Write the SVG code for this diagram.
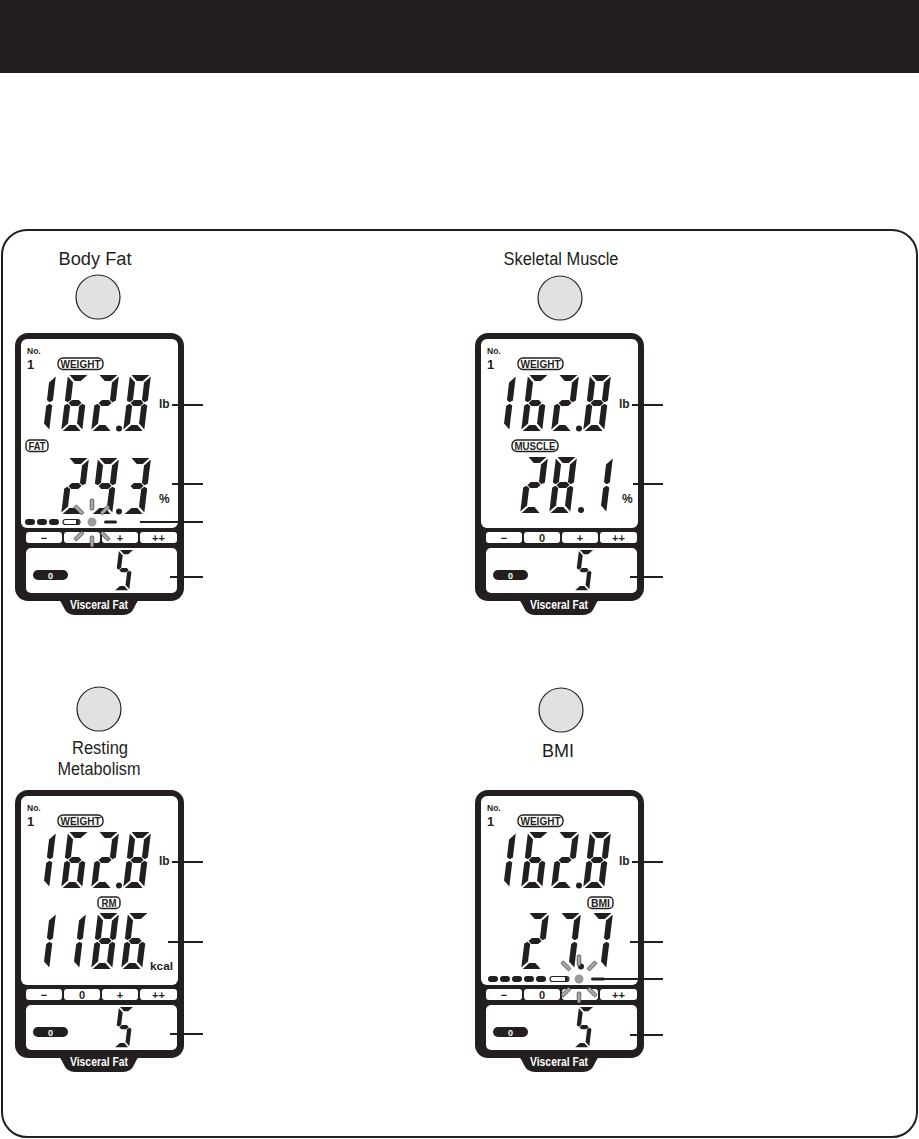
<svg xmlns="http://www.w3.org/2000/svg" width="919" height="1139" viewBox="0 0 919 1139">
<style>
.dk{fill:#231f20}
.wh{fill:#fff}
.lbl{font-family:"Liberation Sans",Arial,sans-serif;font-size:18px;fill:#231f20;text-anchor:middle}
.b{font-family:"Liberation Sans",Arial,sans-serif;font-weight:bold;fill:#231f20}
.bw{font-family:"Liberation Sans",Arial,sans-serif;font-weight:bold;fill:#fff;text-anchor:middle}
.badge{fill:#fff;stroke:#231f20;stroke-width:1.4}
.bt{font-family:"Liberation Sans",Arial,sans-serif;font-weight:bold;font-size:10px;fill:#231f20;text-anchor:middle}
.kt{font-family:"Liberation Sans",Arial,sans-serif;font-weight:bold;font-size:11px;fill:#231f20;text-anchor:middle}
.lead{stroke:#231f20;stroke-width:2;fill:none}
.ray{fill:#a6a6a6;stroke:#231f20;stroke-width:0.6}
.circ{fill:#e1e1e1;stroke:#231f20;stroke-width:1.2}
.gdot{fill:#9a9a9a}
.opill{fill:#fff;stroke:#231f20;stroke-width:1.2}
</style>
<defs>
  <polygon id="sa" class="dk" points="1.5,0 19.5,0 13.5,6 7.5,6"/>
  <polygon id="sb" class="dk" points="21,1.5 21,25.5 18,27.3 15,25 15,7.5"/>
  <polygon id="sc" class="dk" points="15,31 18,28.7 21,30.5 21,54.5 15,48.5"/>
  <polygon id="sd" class="dk" points="7.5,50 13.5,50 19.5,56 1.5,56"/>
  <polygon id="se" class="dk" points="0,30.5 3,28.7 6,31 6,48.5 0,54.5"/>
  <polygon id="sf" class="dk" points="0,1.5 6,7.5 6,25 3,27.3 0,25.5"/>
  <polygon id="sg" class="dk" points="4,28 7,25 14,25 17,28 14,31 7,31"/>
  <g id="d1"><use href="#sb"/><use href="#sc"/></g>
  <g id="d2"><use href="#sa"/><use href="#sb"/><use href="#sg"/><use href="#se"/><use href="#sd"/></g>
  <g id="d3"><use href="#sa"/><use href="#sb"/><use href="#sg"/><use href="#sc"/><use href="#sd"/></g>
  <g id="d5"><use href="#sa"/><use href="#sf"/><use href="#sg"/><use href="#sc"/><use href="#sd"/></g>
  <g id="d6"><use href="#sa"/><use href="#sf"/><use href="#sg"/><use href="#se"/><use href="#sd"/><use href="#sc"/></g>
  <g id="d7"><use href="#sa"/><use href="#sb"/><use href="#sc"/></g>
  <g id="d8"><use href="#sa"/><use href="#sb"/><use href="#sc"/><use href="#sd"/><use href="#se"/><use href="#sf"/><use href="#sg"/></g>
  <g id="d9"><use href="#sa"/><use href="#sb"/><use href="#sc"/><use href="#sd"/><use href="#sf"/><use href="#sg"/></g>
  <rect id="ray" class="ray" x="13" y="-1.8" width="11" height="3.6" rx="1.2"/>
  <g id="device">
    <rect class="dk" x="15" y="333" width="169" height="268" rx="13"/>
    <path class="dk" d="M46,596 Q58,596 62,604 L64,608 Q67,615 75,615 L123,615 Q131,615 134,608 L136,604 Q140,596 152,596 Z"/>
    <rect class="wh" x="21" y="339" width="157" height="189" rx="6"/>
    <rect class="wh" x="26" y="532" width="36" height="11" rx="3"/>
    <rect class="wh" x="64" y="532" width="36" height="11" rx="3"/>
    <rect class="wh" x="102" y="532" width="36" height="11" rx="3"/>
    <rect class="wh" x="140" y="532" width="37" height="11" rx="3"/>
    <rect class="wh" x="26" y="548" width="151" height="45" rx="5"/>
    <rect class="badge" x="58" y="358" width="45" height="11.5" rx="5"/>
    <use href="#d1" transform="translate(35,375) skewX(-7)"/>
    <use href="#d6" transform="translate(68,375) skewX(-7)"/>
    <use href="#d2" transform="translate(98,375) skewX(-7)"/>
    <circle class="dk" cx="119" cy="428.5" r="3"/>
    <use href="#d8" transform="translate(130,375) skewX(-7)"/>
    <rect class="dk" x="33" y="570" width="35" height="10" rx="5"/>
    <use href="#d5" transform="translate(119,550) skewX(-7) scale(0.72)"/>
  </g>
</defs>

<rect id="header" x="0" y="0" width="919" height="73" class="dk"/>
<rect id="frame" x="2" y="230" width="915" height="907" rx="25" fill="none" stroke="#231f20" stroke-width="2"/>

<g id="panel-body-fat">
  <text class="lbl" x="95" y="265" textLength="73" lengthAdjust="spacingAndGlyphs">Body Fat</text>
  <circle class="circ" cx="98" cy="297" r="22"/>
  <g>
    <use href="#device"/>
    <text class="b" x="27" y="354" font-size="8.5">No.</text>
    <text class="b" x="27" y="369" font-size="13">1</text>
    <text class="bt" x="80.5" y="367.5" textLength="40" lengthAdjust="spacingAndGlyphs">WEIGHT</text>
    <text class="b" x="159" y="408" font-size="12">lb</text>
    <text class="bw" x="99" y="609" font-size="12" textLength="58" lengthAdjust="spacingAndGlyphs">Visceral Fat</text>
    <text class="bw" x="50.5" y="578.5" font-size="9">0</text>
    <rect class="badge" x="26" y="440" width="22" height="11.5" rx="4"/>
    <text class="bt" x="37" y="449.5" textLength="17" lengthAdjust="spacingAndGlyphs">FAT</text>
    <use href="#d2" transform="translate(68,458) skewX(-7)"/>
    <use href="#d9" transform="translate(98,458) skewX(-7)"/>
    <circle class="dk" cx="119" cy="511.5" r="3"/>
    <use href="#d3" transform="translate(130,458) skewX(-7)"/>
    <text class="b" x="159" y="503" font-size="12">%</text>
    <rect class="dk" x="25" y="519" width="10" height="6" rx="3"/>
    <rect class="dk" x="37" y="519" width="10" height="6" rx="3"/>
    <rect class="dk" x="49" y="519" width="10" height="6" rx="3"/>
    <rect class="opill" x="63" y="519.5" width="17" height="5" rx="2.5"/>
    <path class="dk" d="M76,519 A3,3 0 0 1 76,525 Z"/>
    <circle class="gdot" cx="92" cy="522" r="4.5"/>
    <rect class="dk" x="104" y="520.5" width="13" height="3" rx="1.5"/>
    <text class="kt" x="44" y="541.5">−</text>
    <text class="kt" x="120" y="541.5">+</text>
    <text class="kt" x="158.5" y="541.5">++</text>
    <g transform="translate(92,523)">
      <use href="#ray" transform="rotate(-135)"/>
      <use href="#ray" transform="rotate(-90)"/>
      <use href="#ray" transform="rotate(-45)"/>
      <use href="#ray" transform="rotate(45)"/>
      <use href="#ray" transform="rotate(90)"/>
      <use href="#ray" transform="rotate(135)"/>
    </g>
  </g>
</g>

<g id="panel-skeletal-muscle">
  <text class="lbl" x="561" y="265" textLength="115" lengthAdjust="spacingAndGlyphs">Skeletal Muscle</text>
  <circle class="circ" cx="560" cy="298" r="22"/>
  <g transform="translate(460,0)">
    <use href="#device"/>
    <text class="b" x="27" y="354" font-size="8.5">No.</text>
    <text class="b" x="27" y="369" font-size="13">1</text>
    <text class="bt" x="80.5" y="367.5" textLength="40" lengthAdjust="spacingAndGlyphs">WEIGHT</text>
    <text class="b" x="159" y="408" font-size="12">lb</text>
    <text class="bw" x="99" y="609" font-size="12" textLength="58" lengthAdjust="spacingAndGlyphs">Visceral Fat</text>
    <text class="bw" x="50.5" y="578.5" font-size="9">0</text>
    <rect class="badge" x="52" y="440" width="46" height="11.5" rx="5"/>
    <text class="bt" x="75" y="449.5" textLength="41" lengthAdjust="spacingAndGlyphs">MUSCLE</text>
    <use href="#d2" transform="translate(67,457) skewX(-7)"/>
    <use href="#d8" transform="translate(96,457) skewX(-7)"/>
    <circle class="dk" cx="121" cy="510" r="3"/>
    <use href="#d1" transform="translate(132,457) skewX(-7)"/>
    <text class="b" x="162" y="503" font-size="12">%</text>
    <text class="kt" x="44" y="541.5">−</text>
    <text class="kt" x="82" y="541.5">0</text>
    <text class="kt" x="120" y="541.5">+</text>
    <text class="kt" x="158.5" y="541.5">++</text>
  </g>
</g>

<g id="panel-resting-metabolism">
  <circle class="circ" cx="99" cy="709" r="22"/>
  <text class="lbl" x="100" y="754" textLength="56" lengthAdjust="spacingAndGlyphs">Resting</text>
  <text class="lbl" x="99" y="775" textLength="83" lengthAdjust="spacingAndGlyphs">Metabolism</text>
  <g transform="translate(0,457)">
    <use href="#device"/>
    <text class="b" x="27" y="354" font-size="8.5">No.</text>
    <text class="b" x="27" y="369" font-size="13">1</text>
    <text class="bt" x="80.5" y="367.5" textLength="40" lengthAdjust="spacingAndGlyphs">WEIGHT</text>
    <text class="b" x="159" y="408" font-size="12">lb</text>
    <text class="bw" x="99" y="609" font-size="12" textLength="58" lengthAdjust="spacingAndGlyphs">Visceral Fat</text>
    <text class="bw" x="50.5" y="578.5" font-size="9">0</text>
    <rect class="badge" x="98" y="440" width="22" height="11.5" rx="4"/>
    <text class="bt" x="109" y="449.5" textLength="15" lengthAdjust="spacingAndGlyphs">RM</text>
    <use href="#d1" transform="translate(35,456) skewX(-7)"/>
    <use href="#d1" transform="translate(65,456) skewX(-7)"/>
    <use href="#d8" transform="translate(98,456) skewX(-7)"/>
    <use href="#d6" transform="translate(128,456) skewX(-7)"/>
    <text class="b" x="150" y="513" font-size="10.5" textLength="23" lengthAdjust="spacingAndGlyphs">kcal</text>
    <text class="kt" x="44" y="541.5">−</text>
    <text class="kt" x="82" y="541.5">0</text>
    <text class="kt" x="120" y="541.5">+</text>
    <text class="kt" x="158.5" y="541.5">++</text>
  </g>
</g>

<g id="panel-bmi">
  <circle class="circ" cx="561" cy="710" r="22"/>
  <text class="lbl" x="558" y="757">BMI</text>
  <g transform="translate(460,457)">
    <use href="#device"/>
    <text class="b" x="27" y="354" font-size="8.5">No.</text>
    <text class="b" x="27" y="369" font-size="13">1</text>
    <text class="bt" x="80.5" y="367.5" textLength="40" lengthAdjust="spacingAndGlyphs">WEIGHT</text>
    <text class="b" x="159" y="408" font-size="12">lb</text>
    <text class="bw" x="99" y="609" font-size="12" textLength="58" lengthAdjust="spacingAndGlyphs">Visceral Fat</text>
    <text class="bw" x="50.5" y="578.5" font-size="9">0</text>
    <rect class="badge" x="128" y="440" width="25" height="11.5" rx="4"/>
    <text class="bt" x="140.5" y="449.5" textLength="19" lengthAdjust="spacingAndGlyphs">BMI</text>
    <use href="#d2" transform="translate(68,456) skewX(-7)"/>
    <use href="#d7" transform="translate(100,456) skewX(-7)"/>
    <circle class="dk" cx="121" cy="509.5" r="3"/>
    <use href="#d7" transform="translate(132,456) skewX(-7)"/>
    <rect class="dk" x="28" y="519" width="10" height="6" rx="3"/>
    <rect class="dk" x="40" y="519" width="10" height="6" rx="3"/>
    <rect class="dk" x="52" y="519" width="10" height="6" rx="3"/>
    <rect class="dk" x="64" y="519" width="10" height="6" rx="3"/>
    <rect class="dk" x="76" y="519" width="10" height="6" rx="3"/>
    <rect class="opill" x="90" y="519.5" width="19" height="5" rx="2.5"/>
    <path class="dk" d="M105,519 A3,3 0 0 1 105,525 Z"/>
    <circle class="gdot" cx="119" cy="522" r="4.5"/>
    <rect class="dk" x="131" y="520.5" width="14" height="3" rx="1.5"/>
    <text class="kt" x="44" y="541.5">−</text>
    <text class="kt" x="82" y="541.5">0</text>
    <text class="kt" x="158.5" y="541.5">++</text>
    <g transform="translate(119,522)">
      <use href="#ray" transform="rotate(-135)"/>
      <use href="#ray" transform="rotate(-90)"/>
      <use href="#ray" transform="rotate(-45)"/>
      <use href="#ray" transform="rotate(45)"/>
      <use href="#ray" transform="rotate(90)"/>
      <use href="#ray" transform="rotate(135)"/>
    </g>
  </g>
</g>

<g id="connectors" class="lead">
  <path d="M172,405H203M172,484H203M140,522H203M170,577H203"/>
  <path d="M632,405H663M633,484H663M630,577H663"/>
  <path d="M172,862H203M168,942H203M170,1034H203"/>
  <path d="M632,862H663M630,942H663M602,979H663M630,1035H663"/>
</g>
</svg>
